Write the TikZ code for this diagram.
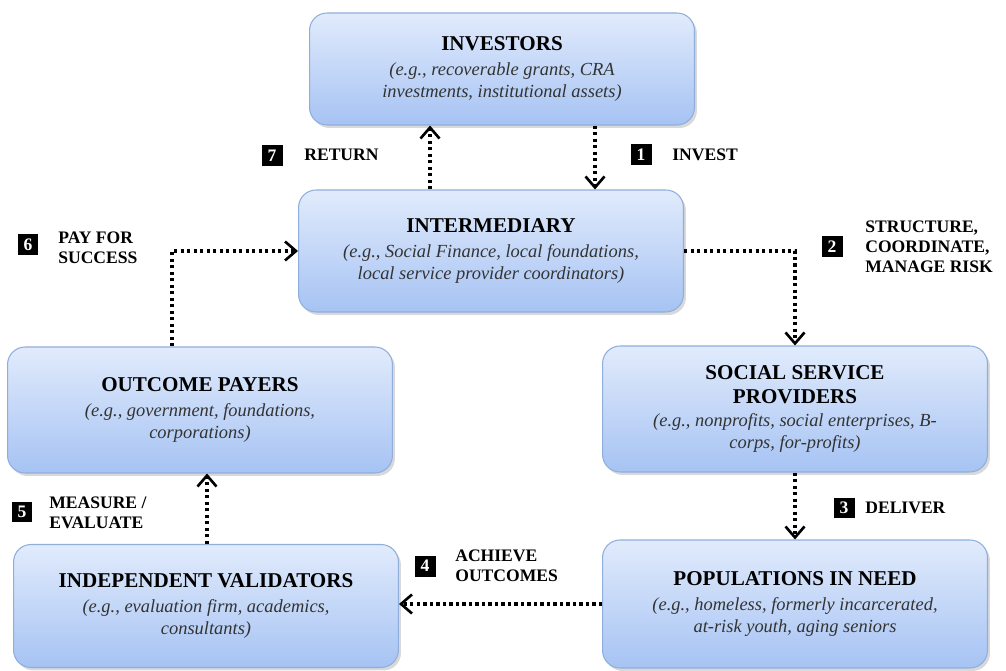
\documentclass[tikz,border=0pt]{standalone}
\usepackage{fontspec}
\setmainfont{Liberation Serif}
\usepackage{xcolor}
\usetikzlibrary{arrows.meta,shadows}
\definecolor{boxtop}{HTML}{E1EBFC}
\definecolor{boxbot}{HTML}{A6C3F3}
\definecolor{boxline}{HTML}{8FAEDC}
\definecolor{egtext}{HTML}{333333}

\begin{document}
\begin{tikzpicture}[x=0.02cm, y=-0.02cm,
      party/.style = {draw=boxline, line width=0.6pt, rounded corners=0.35cm,
            top color=boxtop, bottom color=boxbot, minimum width=7.7cm,
            align=center, font=\fontsize{10.5}{12.5}\selectfont,
            drop shadow={opacity=0.3, shadow xshift=0.05cm, shadow yshift=-0.06cm}},
      numbox/.style = {fill=black, text=white, inner sep=0pt, minimum size=0.42cm,
            font=\bfseries\fontsize{10}{10}\selectfont},
      flowtxt/.style = {anchor=west, inner sep=0pt, align=left,
            font=\bfseries\fontsize{10}{11.5}\selectfont},
      flow/.style = {line width=1.8pt, dash pattern=on 1.8pt off 1.9pt,
            -{Straight Barb[length=2.2mm, width=3.8mm, line width=1.5pt]}}
      ]
      \useasboundingbox (0,0) rectangle (1006,671);

      % the six parties
      \node[party, minimum height=2.24cm] (inv) at (502,69)
            {\textbf{\fontsize{12}{14}\selectfont INVESTORS}\\[2pt]
             \textcolor{egtext}{\itshape (e.g., recoverable grants, CRA}\\
             \textcolor{egtext}{\itshape investments, institutional assets)}};
      \node[party, minimum height=2.44cm] (interm) at (491,251)
            {\textbf{\fontsize{12}{14}\selectfont INTERMEDIARY}\\[2pt]
             \textcolor{egtext}{\itshape (e.g., Social Finance, local foundations,}\\
             \textcolor{egtext}{\itshape local service provider coordinators)}};
      \node[party, minimum height=2.52cm] (op) at (200,410)
            {\textbf{\fontsize{12}{14}\selectfont OUTCOME PAYERS}\\[2pt]
             \textcolor{egtext}{\itshape (e.g., government, foundations,}\\
             \textcolor{egtext}{\itshape corporations)}};
      \node[party, minimum height=2.52cm] (ssp) at (795,409)
            {\textbf{\fontsize{12}{14}\selectfont SOCIAL SERVICE}\\[1pt]
             \textbf{\fontsize{12}{14}\selectfont PROVIDERS}\\[1pt]
             \textcolor{egtext}{\itshape (e.g., nonprofits, social enterprises, B-}\\
             \textcolor{egtext}{\itshape corps, for-profits)}};
      \node[party, minimum height=2.46cm] (val) at (206,606)
            {\textbf{\fontsize{12}{14}\selectfont INDEPENDENT VALIDATORS}\\[2pt]
             \textcolor{egtext}{\itshape (e.g., evaluation firm, academics,}\\
             \textcolor{egtext}{\itshape consultants)}};
      \node[party, minimum height=2.56cm] (pop) at (795,604)
            {\textbf{\fontsize{12}{14}\selectfont POPULATIONS IN NEED}\\[2pt]
             \textcolor{egtext}{\itshape (e.g., homeless, formerly incarcerated,}\\
             \textcolor{egtext}{\itshape at-risk youth, aging seniors}};

      % flows
      \coordinate (retx) at (430,0);
      \coordinate (invx) at (595,0);
      \coordinate (payx) at (172,0);
      \coordinate (mesx) at (207,0);
      \draw[flow] (invx |- inv.south) -- (invx |- interm.north);
      \draw[flow] (interm.east) -| (ssp.north);
      \draw[flow] (ssp.south) -- (pop.north);
      \draw[flow] (pop.west) -- (pop.west -| val.east);
      \draw[flow] (mesx |- val.north) -- (mesx |- op.south);
      \draw[flow] (payx |- op.north) |- (interm.west);
      \draw[flow] (retx |- interm.north) -- (retx |- inv.south);

      % step labels
      \node[numbox] (n1) at (641,155) {1};
      \node[flowtxt] (t1) at (672,155) {INVEST};
      \node[numbox] (n2) at (832,247) {2};
      \node[flowtxt] (t2) at (865,247) {STRUCTURE,\\COORDINATE,\\MANAGE RISK};
      \node[numbox] (n3) at (844,508) {3};
      \node[flowtxt] (t3) at (865,508) {DELIVER};
      \node[numbox] (n4) at (425,566) {4};
      \node[flowtxt] (t4) at (455,566) {ACHIEVE\\OUTCOMES};
      \node[numbox] (n5) at (22,512) {5};
      \node[flowtxt] (t5) at (49,513) {MEASURE /\\EVALUATE};
      \node[numbox] (n6) at (28,245) {6};
      \node[flowtxt] (t6) at (58,248) {PAY FOR\\SUCCESS};
      \node[numbox] (n7) at (272,156) {7};
      \node[flowtxt] (t7) at (304,155) {RETURN};
\end{tikzpicture}
\end{document}
